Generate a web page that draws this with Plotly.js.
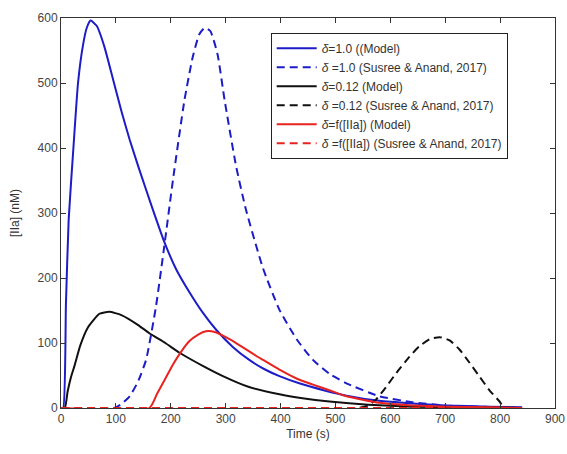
<!DOCTYPE html>
<html>
<head>
<meta charset="utf-8">
<script src="https://cdn.plot.ly/plotly-3.0.1.min.js"></script>
<style>html,body{margin:0;padding:0;background:#fff;}#chart{width:567px;height:454px;}</style>
</head>
<body>
<div id="chart"></div>
<script>
// Time (s) and [IIa] (nM) values
const blueModelT = [0,4,9,14,23,31,40,47,54,65,79,95,110,125,143,165,188,210,234,258,283,313,343,370,398,434,480,520,580,640,700,780,840];
const blueModelV = [0,0,160,290,405,500,558,585,596,588,556,505,457,413,366,311,256,213,178,147,120,94,74,60,49,38,27,19,11,7,4,2,1];

const blueSusT = [0,97,110,125,140,155,173,188,204,225,240,252,262,272,285,298,319,337,368,398,430,459,490,520,580,640,700,760,820,840];
const blueSusV = [0,0,6,18,40,74,156,248,351,474,540,575,585,580,545,474,372,305,215,151,105,74,52,38,18,9,4,2,0.5,0];

const blackModelT = [0,7,12,18,25,35,49,70,88,110,140,161,190,216,260,295,340,398,440,489,560,640,740,840];
const blackModelV = [0,0,25,47,66,96,124,145,148,143,128,115,100,85,64,49,33,21,15,10,5,2,1,0];

const blackSusT = [0,540,560,574,592,611,632,653,672,690,708,726,744,762,780,799,808,840];
const blackSusV = [0,0,4,13,32,54,76,95,106,109,104,90,70,49,28,10,0,0];

const redModelT = [0,161,175,190,204,220,234,250,264,280,307,330,356,368,398,430,459,490,520,580,640,700,780,840];
const redModelV = [0,0,22,45,67,88,103,113,118,117,106,94,80,74,59,45,36,27,18,8,4,2,1,0];

const redSusT = [0,840];
const redSusV = [0,0];

const names = [
  '<i>δ</i>=1.0 ((Model)',
  '<i>δ</i> =1.0 (Susree & Anand, 2017)',
  '<i>δ</i>=0.12 (Model)',
  '<i>δ</i> =0.12 (Susree & Anand, 2017)',
  '<i>δ</i>=f([IIa]) (Model)',
  '<i>δ</i> =f([IIa]) (Susree & Anand, 2017)'
];

const BLUE = '#1c1cc8', BLACK = '#111111', RED = '#e8231f';
const DASH = '8px,5px';

function tr(x, y, name, color, dash) {
  return {x: x, y: y, name: name, type: 'scatter', mode: 'lines',
    line: {color: color, width: 2, dash: dash, shape: 'spline', smoothing: 0.5}};
}

const data = [
  tr(blueModelT, blueModelV, names[0], BLUE, 'solid'),
  tr(blueSusT, blueSusV, names[1], BLUE, DASH),
  tr(blackModelT, blackModelV, names[2], BLACK, 'solid'),
  tr(blackSusT, blackSusV, names[3], BLACK, DASH),
  tr(redModelT, redModelV, names[4], RED, 'solid'),
  tr(redSusT, redSusV, names[5], RED, DASH)
];

const axisCommon = {
  showgrid: false, zeroline: false, showline: true, linecolor: '#333', linewidth: 1,
  mirror: 'ticks', ticks: 'inside', ticklen: 5, tickcolor: '#333',
  tickfont: {family: 'Liberation Sans, Arial, sans-serif', size: 12, color: '#444'}
};

const layout = {
  width: 567, height: 454,
  margin: {l: 61, r: 12, t: 18, b: 46},
  paper_bgcolor: '#fff', plot_bgcolor: '#fff',
  font: {family: 'Liberation Sans, Arial, sans-serif', size: 12, color: '#222'},
  xaxis: Object.assign({}, axisCommon, {
    range: [0, 900], tickvals: [0,100,200,300,400,500,600,700,800,900],
    title: {text: 'Time (s)', standoff: 4, font: {size: 12, color: '#333'}}
  }),
  yaxis: Object.assign({}, axisCommon, {
    range: [0, 600], tickvals: [0,100,200,300,400,500,600],
    title: {text: '[IIa] (nM)', standoff: 15, font: {size: 12, color: '#333'}}
  }),
  showlegend: true,
  legend: {
    x: 0.4245, y: 0.962, xanchor: 'left', yanchor: 'top',
    bordercolor: '#222', borderwidth: 1, bgcolor: '#fff',
    font: {size: 12, color: '#333'}, itemwidth: 40, tracegroupgap: 0
  }
};

Plotly.newPlot('chart', data, layout, {displayModeBar: false, staticPlot: true});
</script>
</body>
</html>
